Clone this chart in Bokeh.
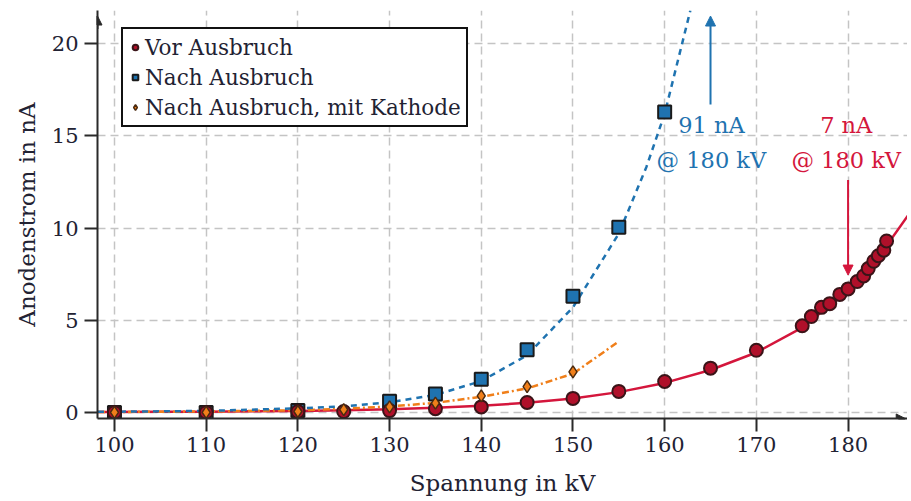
from bokeh.plotting import figure
from bokeh.models import (Arrow, NormalHead, Range1d, FixedTicker, Legend,
                          LegendItem, Label)
from bokeh.embed import file_html
from bokeh.resources import INLINE

# ---------------- data ----------------
vor_kv = [100, 110, 120, 125, 130, 135, 140, 145, 150, 155, 160, 165, 170,
          175, 176, 177.1, 178, 179.1, 180, 181, 181.7, 182.2, 182.8, 183.3, 183.9, 184.2]
vor_na = [0, 0, 0.05, 0.05, 0.1, 0.2, 0.3, 0.54, 0.76, 1.14, 1.68, 2.4, 3.37,
          4.7, 5.2, 5.7, 5.9, 6.4, 6.7, 7.1, 7.4, 7.8, 8.2, 8.5, 8.8, 9.3]
vor_fit_kv = [98.2, 105, 110, 115, 120, 125, 130, 135, 140, 145, 150, 155, 160,
              165, 170, 175, 180, 183, 186.7]
vor_fit_na = [0.02, 0.03, 0.04, 0.06, 0.08, 0.12, 0.17, 0.25, 0.36, 0.52, 0.75, 1.1,
              1.6, 2.3, 3.25, 4.6, 6.6, 8.2, 10.8]

nach_kv = [100, 110, 120, 130, 135, 140, 145, 150, 155, 160]
nach_na = [0, 0, 0.1, 0.6, 1.0, 1.8, 3.4, 6.3, 10.05, 16.3]
nach_fit_kv = [98.2, 110, 120, 125, 130, 135, 140, 145, 150, 155, 158, 160, 161.5, 162.8]
nach_fit_na = [0.03, 0.08, 0.22, 0.33, 0.55, 0.95, 1.7, 3.1, 5.7, 9.7, 13.3, 16.2, 19.2, 21.8]

kat_kv = [100, 110, 120, 125, 130, 135, 140, 145, 150]
kat_na = [0, 0, 0.05, 0.15, 0.3, 0.5, 0.9, 1.4, 2.2]
kat_fit_kv = [98.2, 110, 120, 125, 130, 135, 140, 145, 150, 155]
kat_fit_na = [0.02, 0.05, 0.12, 0.2, 0.32, 0.52, 0.85, 1.3, 2.1, 3.85]

x_ticks = [100, 110, 120, 130, 140, 150, 160, 170, 180]
y_ticks = [0, 5, 10, 15, 20]

# annotation positions (kV, nA)
blue_arrow = (165, 16.7, 21.5)
red_arrow = (180, 12.6, 7.45)
blue_text = ["91 nA", "@ 180 kV"]
red_text = ["7 nA", "@ 180 kV"]
text_x = [165.1, 179.8]
text_y = [15.6, 13.7]

# ---------------- style ----------------
RED = "#d4163c"
RED_FILL = "#b0102a"
BLUE = "#1f73b0"
ORANGE = "#f07f1a"
DARK = "#2a2a2a"
FONT = "DejaVu Serif"
TXT = "#222233"

W, H = 907, 499
BL, BT, BB = 97, 10, 81
PX_PER_KV = 9.17
X0 = 98.15
X1 = X0 + (W - BL) / PX_PER_KV
Y0, Y1 = -0.33, 21.8

p = figure(width=W, height=H, output_backend="svg", toolbar_location=None,
           x_range=Range1d(X0, X1), y_range=Range1d(Y0, Y1),
           min_border_left=BL, min_border_right=0, min_border_top=BT,
           min_border_bottom=BB)
p.outline_line_color = None
p.background_fill_color = "white"

for g in (p.xgrid, p.ygrid):
    g.grid_line_color = "#c4c4c4"
    g.grid_line_dash = "8 5"
    g.grid_line_width = 1.5
p.xaxis.ticker = FixedTicker(ticks=x_ticks)
p.yaxis.ticker = FixedTicker(ticks=y_ticks)
p.xaxis.minor_tick_line_color = None
p.yaxis.minor_tick_line_color = None
for ax in (p.xaxis, p.yaxis):
    ax.axis_line_color = DARK
    ax.axis_line_width = 2
    ax.major_tick_line_color = DARK
    ax.major_tick_line_width = 2
    ax.major_tick_in = 0
    ax.major_tick_out = 13
    ax.major_label_text_font = FONT
    ax.major_label_text_font_size = "21px"
    ax.major_label_text_color = TXT
    ax.axis_label_text_font = FONT
    ax.axis_label_text_font_size = "23px"
    ax.axis_label_text_font_style = "normal"
    ax.axis_label_text_color = TXT
p.xaxis.axis_label = "Spannung in kV"
p.yaxis.axis_label = "Anodenstrom in nA"
p.xaxis.major_label_standoff = 5
p.yaxis.major_label_standoff = 6
p.xaxis.axis_label_standoff = 15
p.yaxis.axis_label_standoff = 9

# axis arrows
p.add_layout(Arrow(end=NormalHead(size=9, fill_color=DARK, line_color=DARK),
                   x_start=X1 - 1, y_start=Y0, x_end=X1 - 0.25, y_end=Y0,
                   line_color=DARK, line_width=2))
p.add_layout(Arrow(end=NormalHead(size=9, fill_color=DARK, line_color=DARK),
                   x_start=X0, y_start=Y1 - 1, x_end=X0, y_end=Y1 - 0.3,
                   line_color=DARK, line_width=2))

# fits
p.line(vor_fit_kv, vor_fit_na, line_color=RED, line_width=2.5)
p.line(kat_fit_kv, kat_fit_na, line_color=ORANGE, line_width=2.5, line_dash="7 3 2 3")
p.line(nach_fit_kv, nach_fit_na, line_color=BLUE, line_width=2.5, line_dash="6 5")

# points
r_nach = p.scatter(nach_kv, nach_na, marker="square", size=13, fill_color=BLUE,
                   line_color="#1a1a1a", line_width=2)
r_vor = p.scatter(vor_kv, vor_na, marker="circle", size=13, fill_color=RED_FILL,
                  line_color="#3a1418", line_width=2)
r_kat = p.scatter(kat_kv, kat_na, marker="diamond", size=12, fill_color=ORANGE,
                  line_color="#4a2a10", line_width=1.5)

# annotation arrows
p.add_layout(Arrow(end=NormalHead(size=10, fill_color=BLUE, line_color=BLUE),
                   x_start=blue_arrow[0], y_start=blue_arrow[1],
                   x_end=blue_arrow[0], y_end=blue_arrow[2],
                   line_color=BLUE, line_width=2))
p.add_layout(Arrow(end=NormalHead(size=10, fill_color=RED, line_color=RED),
                   x_start=red_arrow[0], y_start=red_arrow[1],
                   x_end=red_arrow[0], y_end=red_arrow[2],
                   line_color=RED, line_width=2))
for txt, col, xx in ((blue_text, BLUE, text_x[0]), (red_text, RED, text_x[1])):
    for t, yy in zip(txt, text_y):
        p.add_layout(Label(x=xx, y=yy, text=t, text_color=col, text_font=FONT,
                           text_font_size="22.5px", text_align="center",
                           text_baseline="middle"))

legend = Legend(items=[LegendItem(label="Vor Ausbruch", renderers=[r_vor]),
                       LegendItem(label="Nach Ausbruch", renderers=[r_nach]),
                       LegendItem(label="Nach Ausbruch, mit Kathode", renderers=[r_kat])],
                location=(24, 291))
legend.label_text_font = FONT
legend.label_text_font_size = "21.5px"
legend.label_text_color = TXT
legend.border_line_color = "#111111"
legend.border_line_alpha = 1
legend.border_line_width = 2
legend.background_fill_alpha = 1
legend.glyph_width = 14
legend.glyph_height = 26
legend.label_height = 26
legend.label_standoff = 3
legend.spacing = 4
legend.padding = 5
legend.margin = 0
p.add_layout(legend)

open("out.html", "w").write(file_html(p, INLINE))
